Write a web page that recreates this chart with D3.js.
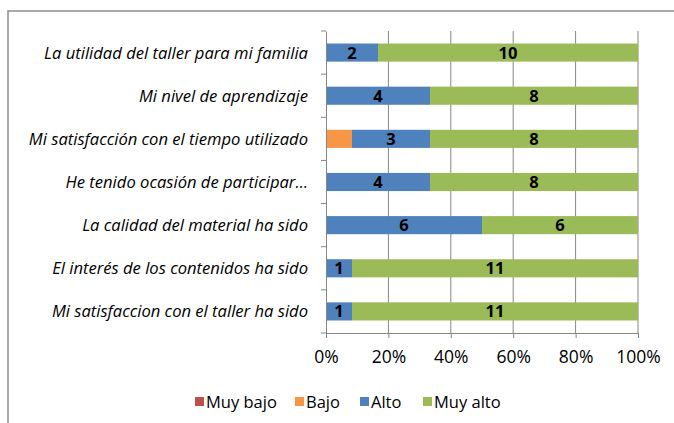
<!DOCTYPE html>
<html>
<head>
<meta charset="UTF-8">
<style>
body { margin: 0; background: #fff; }
text { font-family: "Open Sans", Lato, sans-serif; }
</style>
</head>
<body>
<svg width="674" height="423"></svg>
<script src="https://cdn.jsdelivr.net/npm/d3@7"></script>
<script>

var categories = [
  "La utilidad del taller para mi familia",
  "Mi nivel de aprendizaje",
  "Mi satisfacción con el tiempo utilizado",
  "He tenido ocasión de participar…",
  "La calidad del material ha sido",
  "El interés de los contenidos ha sido",
  "Mi satisfaccion con el taller ha sido"
];
var seriesNames = ["Muy bajo", "Bajo", "Alto", "Muy alto"];
var muyBajo = [0, 0, 0, 0, 0, 0, 0];
var bajo    = [0, 0, 1, 0, 0, 0, 0];
var alto    = [2, 4, 3, 4, 6, 1, 1];
var muyAlto = [10, 8, 8, 8, 6, 11, 11];
var colors = ["#C0504D", "#F79646", "#4F81BD", "#9BBB59"];
var tickValues = [0, 0.2, 0.4, 0.6, 0.8, 1];

var svg = d3.select("svg"),
  margin = {top: 31, right: 36, bottom: 90, left: 326},
  width = +svg.attr("width") - margin.left - margin.right,
  height = +svg.attr("height") - margin.top - margin.bottom;

// outer chart frame (runs off the right and bottom edges)
svg.append("rect")
  .attr("x", 8).attr("y", 11)
  .attr("width", 700).attr("height", 450)
  .attr("fill", "none")
  .attr("stroke", "#8c8c8c")
  .attr("stroke-width", 1.5);

var g = svg.append("g").attr("transform", "translate(" + margin.left + "," + margin.top + ")");

var table = categories.map(function(c, i) {
  return {cat: c, "Muy bajo": muyBajo[i], "Bajo": bajo[i], "Alto": alto[i], "Muy alto": muyAlto[i]};
});

var stack = d3.stack().keys(seriesNames).offset(d3.stackOffsetExpand);
var layers = stack(table);

var x = d3.scaleLinear().domain([0, 1]).range([0, width]);
var y = d3.scaleBand().domain(categories).range([0, height]).paddingInner(0.58).paddingOuter(0.29);
var yTicks = d3.scaleBand().domain(categories).range([0, height]);

// gridlines
g.selectAll(".grid")
  .data(tickValues.slice(1))
  .enter().append("line")
  .attr("x1", function(d) { return x(d); })
  .attr("x2", function(d) { return x(d); })
  .attr("y1", 0).attr("y2", height)
  .attr("stroke", "#868686").attr("stroke-width", 1);

// bars
var layer = g.selectAll(".layer")
  .data(layers)
  .enter().append("g")
  .attr("fill", function(d, i) { return colors[i]; });

layer.selectAll("rect")
  .data(function(d) { return d; })
  .enter().append("rect")
  .attr("x", function(d) { return x(d[0]); })
  .attr("width", function(d) { return x(d[1]) - x(d[0]); })
  .attr("y", function(d) { return y(d.data.cat); })
  .attr("height", y.bandwidth());

// data labels for Alto and Muy alto
layers.forEach(function(l) {
  if (l.key !== "Alto" && l.key !== "Muy alto") return;
  g.selectAll(".lbl-" + l.index)
    .data(l.filter(function(d) { return d.data[l.key] > 0; }))
    .enter().append("text")
    .attr("x", function(d) { return (x(d[0]) + x(d[1])) / 2; })
    .attr("y", function(d) { return y(d.data.cat) + y.bandwidth() / 2; })
    .attr("dy", "0.36em")
    .attr("text-anchor", "middle")
    .attr("font-size", 16.5)
    .attr("font-weight", "bold")
    .attr("fill", "#000")
    .text(function(d) { return d.data[l.key]; });
});

// y axis
var yAxis = g.append("g")
  .call(d3.axisLeft(yTicks).tickSize(0).tickFormat(""));
yAxis.select(".domain").attr("stroke", "#868686");
yAxis.selectAll(".ytick")
  .data(d3.range(categories.length + 1))
  .enter().append("line")
  .attr("x1", -5).attr("x2", 0)
  .attr("y1", function(d) { return d * yTicks.step(); })
  .attr("y2", function(d) { return d * yTicks.step(); })
  .attr("stroke", "#868686");

g.selectAll(".cat")
  .data(categories)
  .enter().append("text")
  .attr("x", -18)
  .attr("y", function(d) { return yTicks(d) + yTicks.bandwidth() / 2; })
  .attr("dy", "0.36em")
  .attr("text-anchor", "end")
  .attr("font-size", 16.6)
  .attr("font-style", "italic")
  .attr("fill", "#000")
  .text(function(d) { return d; });

// x axis
var xAxis = g.append("g")
  .attr("transform", "translate(0," + height + ")")
  .call(d3.axisBottom(x).tickValues(tickValues).tickSize(5).tickPadding(13).tickFormat(d3.format(".0%")));
xAxis.select(".domain").attr("stroke", "#868686");
xAxis.selectAll(".tick line").attr("stroke", "#868686");
xAxis.selectAll(".tick text")
  .attr("font-size", 17.5)
  .attr("font-family", "'Open Sans', sans-serif")
  .attr("fill", "#000");

// legend
var legendX = [195, 295, 360, 423];
var legend = svg.selectAll(".legend")
  .data(seriesNames)
  .enter().append("g")
  .attr("transform", function(d, i) { return "translate(" + legendX[i] + ",397)"; });

legend.append("rect")
  .attr("width", 9).attr("height", 9)
  .attr("fill", function(d, i) { return colors[i]; });

legend.append("text")
  .attr("x", 11).attr("y", 5)
  .attr("dy", "0.36em")
  .attr("font-size", 16.5)
  .attr("fill", "#000")
  .text(function(d) { return d; });

</script>
</body>
</html>
